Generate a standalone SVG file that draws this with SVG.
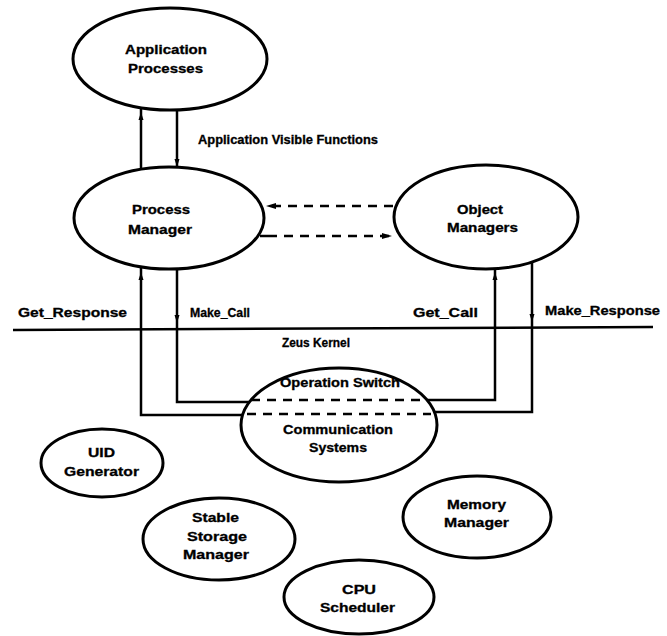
<svg xmlns="http://www.w3.org/2000/svg" width="667" height="636" viewBox="0 0 667 636">
  <style>
    .node ellipse { fill: #fff; stroke: #000; stroke-width: 3; }
    text { font-family: "Liberation Sans", Arial, sans-serif; font-weight: bold; font-size: 12px; fill: #000; stroke: #000; stroke-width: 0.3; }
    .wire { fill: none; stroke: #000; stroke-width: 2.5; }
    .dash { fill: none; stroke: #000; stroke-width: 2.5; stroke-dasharray: 9 7; }
    .tip { fill: #000; }
  </style>
  <defs>
    <path id="tipUp" d="M0,0 L-2.5,8 L2.5,8 Z"/>
    <path id="tipDown" d="M0,0 L-2.5,-8 L2.5,-8 Z"/>
    <marker id="head" viewBox="0 0 10 6" refX="10" refY="3" markerWidth="10" markerHeight="6" markerUnits="userSpaceOnUse" orient="auto">
      <path d="M0,0 L10,3 L0,6 Z" fill="#000"/>
    </marker>
  </defs>

  <rect width="667" height="636" fill="#fff"/>

  <!-- connectors -->
  <g id="connectors">
    <!-- application processes <-> process manager -->
    <path class="wire" d="M141,108 V172"/>
    <path class="wire" d="M177,108 V170"/>
    <use href="#tipUp" class="tip" x="141" y="112"/>
    <use href="#tipDown" class="tip" x="177" y="167"/>

    <!-- process manager <-> object managers -->
    <path class="dash" d="M393,206 H266" marker-end="url(#head)"/>
    <path class="wire" d="M260,236 H277"/>
    <path class="dash" d="M284,236 H392" marker-end="url(#head)"/>

    <!-- kernel boundary -->
    <path class="wire" d="M13,330 L653,327"/>

    <!-- process manager down to the operation switch -->
    <path class="wire" d="M141,265 V415 H246"/>
    <path class="wire" d="M177,265 V402 H252"/>
    <use href="#tipUp" class="tip" x="141" y="272"/>
    <use href="#tipDown" class="tip" x="177" y="323"/>

    <!-- object managers down to the operation switch -->
    <path class="wire" d="M495,265 V400 H426"/>
    <path class="wire" d="M532,258 V412 H432"/>
    <use href="#tipUp" class="tip" x="495" y="272"/>
    <use href="#tipDown" class="tip" x="532" y="322"/>

    <text x="198" y="144" textLength="180" lengthAdjust="spacingAndGlyphs">Application Visible Functions</text>
    <text x="18" y="317" textLength="109" lengthAdjust="spacingAndGlyphs">Get_Response</text>
    <text x="190" y="317" textLength="60" lengthAdjust="spacingAndGlyphs">Make_Call</text>
    <text x="413" y="317" textLength="65" lengthAdjust="spacingAndGlyphs">Get_Call</text>
    <text x="545" y="315" textLength="115" lengthAdjust="spacingAndGlyphs">Make_Response</text>
    <text x="282" y="347" textLength="68" lengthAdjust="spacingAndGlyphs">Zeus Kernel</text>
  </g>

  <g id="application-processes" class="node">
    <ellipse cx="170" cy="59" rx="97" ry="51"/>
    <text x="125" y="54" textLength="82" lengthAdjust="spacingAndGlyphs">Application</text>
    <text x="128" y="73" textLength="75" lengthAdjust="spacingAndGlyphs">Processes</text>
  </g>

  <g id="process-manager" class="node">
    <ellipse cx="169" cy="218" rx="95" ry="51"/>
    <text x="132" y="214" textLength="58" lengthAdjust="spacingAndGlyphs">Process</text>
    <text x="128" y="234" textLength="64" lengthAdjust="spacingAndGlyphs">Manager</text>
  </g>

  <g id="object-managers" class="node">
    <ellipse cx="486" cy="217" rx="92" ry="52"/>
    <text x="457" y="214" textLength="46" lengthAdjust="spacingAndGlyphs">Object</text>
    <text x="447" y="232" textLength="71" lengthAdjust="spacingAndGlyphs">Managers</text>
  </g>

  <g id="operation-switch" class="node">
    <ellipse cx="339" cy="425" rx="98" ry="57"/>
    <text x="280" y="387" textLength="120" lengthAdjust="spacingAndGlyphs">Operation Switch</text>
    <path class="dash" d="M251,400 H427"/>
    <path class="dash" d="M247,414 H431"/>
    <text x="283" y="434" textLength="110" lengthAdjust="spacingAndGlyphs">Communication</text>
    <text x="309" y="452" textLength="58" lengthAdjust="spacingAndGlyphs">Systems</text>
  </g>

  <g id="uid-generator" class="node">
    <ellipse cx="102" cy="463" rx="61" ry="34"/>
    <text x="88" y="457" textLength="27" lengthAdjust="spacingAndGlyphs">UID</text>
    <text x="64" y="476" textLength="75" lengthAdjust="spacingAndGlyphs">Generator</text>
  </g>

  <g id="stable-storage-manager" class="node">
    <ellipse cx="219" cy="539" rx="76" ry="41"/>
    <text x="192" y="522" textLength="47" lengthAdjust="spacingAndGlyphs">Stable</text>
    <text x="187" y="541" textLength="60" lengthAdjust="spacingAndGlyphs">Storage</text>
    <text x="183" y="559" textLength="66" lengthAdjust="spacingAndGlyphs">Manager</text>
  </g>

  <g id="memory-manager" class="node">
    <ellipse cx="477" cy="517" rx="74" ry="41"/>
    <text x="447" y="509" textLength="59" lengthAdjust="spacingAndGlyphs">Memory</text>
    <text x="444" y="527" textLength="65" lengthAdjust="spacingAndGlyphs">Manager</text>
  </g>

  <g id="cpu-scheduler" class="node">
    <ellipse cx="359" cy="597" rx="75" ry="37"/>
    <text x="342" y="594" textLength="34" lengthAdjust="spacingAndGlyphs">CPU</text>
    <text x="320" y="612" textLength="75" lengthAdjust="spacingAndGlyphs">Scheduler</text>
  </g>
</svg>
